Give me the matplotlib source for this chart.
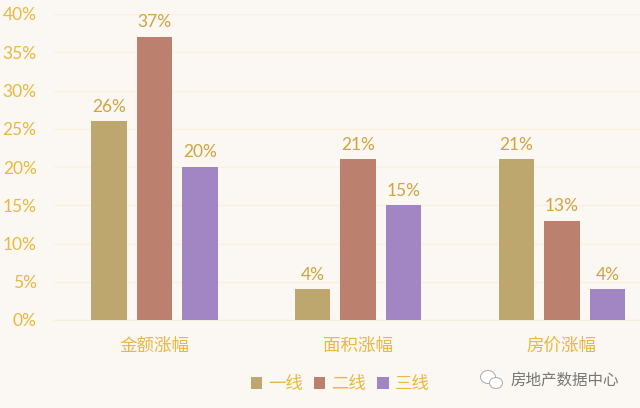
import numpy as np
import matplotlib.pyplot as plt
from matplotlib.patches import Ellipse

plt.rcParams['font.family'] = ['Lato', 'Noto Sans CJK SC', 'DejaVu Sans']

categories = ['金额涨幅', '面积涨幅', '房价涨幅']
tier1 = [26, 4, 21]
tier2 = [37, 21, 13]
tier3 = [20, 15, 4]
series_names = ['一线', '二线', '三线']
colors = ['#bda76e', '#bb806e', '#a285c3']
bg = '#fbf7f2'
gold = '#e8b93f'
label_gold = '#cfa443'

fig = plt.figure(figsize=(6.4, 4.08), dpi=100, facecolor=bg)
ax = fig.add_axes([54 / 640, 1 - 320 / 408, (640 - 54) / 640, (320 - 14) / 408], facecolor=bg)

x = np.arange(3)
w = 0.174
gap = 0.2233
for i, vals in enumerate([tier1, tier2, tier3]):
    pos = x + (i - 1) * gap
    ax.bar(pos, vals, w, color=colors[i], label=series_names[i], zorder=3)
    for p, v in zip(pos, vals):
        ax.text(p, v + 0.85, '%d%%' % v, ha='center', va='bottom', fontsize=12.5, color=label_gold)

ax.set_xlim(-0.493, 2.383)
ax.set_ylim(0, 40)
ax.set_yticks(range(0, 41, 5))
ax.set_yticklabels(['%d%%' % v for v in range(0, 41, 5)], fontsize=12.5, color=gold)
ax.set_xticks(x)
ax.set_xticklabels(categories, fontsize=12.6, color=gold)
ax.tick_params(axis='x', length=0, pad=13)
ax.tick_params(axis='y', length=0, pad=12.5)
ax.grid(axis='y', color='#f9f2de', linewidth=1, zorder=0)
ax.set_axisbelow(True)
for s in ['top', 'right', 'left']:
    ax.spines[s].set_visible(False)
ax.spines['bottom'].set_color('#f5eed9')

fig.legend(*ax.get_legend_handles_labels(), loc='center', bbox_to_anchor=(340 / 640, 1 - 384 / 408),
           ncol=3, frameon=False, fontsize=12.5, labelcolor=gold, handlelength=0.65, handleheight=0.75,
           columnspacing=0.65, handletextpad=0.35)

# watermark
fig.text(565 / 640, 1 - 380 / 408, '房地产数据中心', fontsize=11.2, color='#777777', ha='center', va='center')
bubble1 = Ellipse((488, 408 - 377), 15, 13, transform=None, facecolor='white', edgecolor='#aaaaaa', linewidth=0.7)
bubble2 = Ellipse((496, 408 - 383), 13, 11, transform=None, facecolor='white', edgecolor='#aaaaaa', linewidth=0.7)
fig.add_artist(bubble1)
fig.add_artist(bubble2)

fig.savefig('out.png', dpi=100, facecolor=bg)
